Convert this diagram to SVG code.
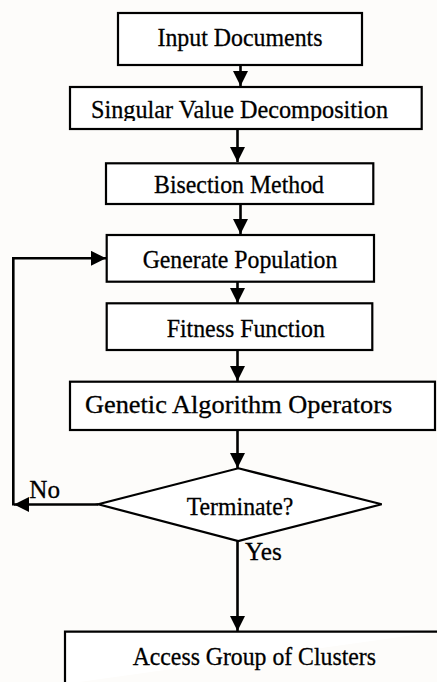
<svg xmlns="http://www.w3.org/2000/svg" width="437" height="682" viewBox="0 0 437 682">
<style>
.box{fill:#ffffff;stroke:#000;stroke-width:2.2}
.t{font-family:"Liberation Serif","Times New Roman",serif;font-size:26px;fill:#000;stroke:#000;stroke-width:0.3;text-anchor:middle}
.lbl{font-family:"Liberation Serif","Times New Roman",serif;font-size:26px;fill:#000;stroke:#000;stroke-width:0.3}
.c{fill:none;stroke:#000;stroke-width:2.6}
</style>
<defs>
<marker id="ah" markerUnits="userSpaceOnUse" markerWidth="16" markerHeight="16" refX="15" refY="7.5" orient="auto">
<path d="M0,0 L15,7.5 L0,15 z" fill="#000"/>
</marker>
<clipPath id="svdclip"><rect x="70" y="87" width="352" height="34"/></clipPath>
</defs>
<rect x="0" y="0" width="437" height="682" fill="#fdfcfa"/>
<g id="connectors">
<path class="c" d="M240.5,65 V86" marker-end="url(#ah)"/>
<path class="c" d="M237.5,129 V162" marker-end="url(#ah)"/>
<path class="c" d="M240.5,204 V234" marker-end="url(#ah)"/>
<path class="c" d="M237.5,282 V303" marker-end="url(#ah)"/>
<path class="c" d="M237.5,350 V381" marker-end="url(#ah)"/>
<path class="c" d="M237.5,430 V468" marker-end="url(#ah)"/>
<path class="c" d="M237.5,541 V631" marker-end="url(#ah)"/>
<path class="c" d="M98.3,504.5 H14" marker-end="url(#ah)"/>
<path class="c" d="M13.3,505.5 V258.3 H106" marker-end="url(#ah)"/>
</g>
<g id="n-input">
<rect class="box" x="118" y="13" width="244" height="52"/>
<text class="t" x="240" y="46" textLength="165" lengthAdjust="spacingAndGlyphs">Input Documents</text>
</g>
<g id="n-svd">
<rect class="box" x="70" y="87" width="351.7" height="42"/>
<text class="t" x="239.5" y="118" textLength="297" lengthAdjust="spacingAndGlyphs" clip-path="url(#svdclip)">Singular Value Decomposition</text>
</g>
<g id="n-bisection">
<rect class="box" x="106" y="163.3" width="267.3" height="40.7"/>
<text class="t" x="239" y="193.3" textLength="170" lengthAdjust="spacingAndGlyphs">Bisection Method</text>
</g>
<g id="n-genpop">
<rect class="box" x="106.7" y="235" width="267.3" height="46.7"/>
<text class="t" x="240" y="268.3" textLength="194.7" lengthAdjust="spacingAndGlyphs">Generate Population</text>
</g>
<g id="n-fitness">
<rect class="box" x="106.7" y="303.3" width="265.6" height="46.7"/>
<text class="t" x="245.8" y="336.7" textLength="158.3" lengthAdjust="spacingAndGlyphs">Fitness Function</text>
</g>
<g id="n-gao">
<rect class="box" x="70" y="381.7" width="365" height="48.3"/>
<text class="t" x="238.6" y="413.3" textLength="307.3" lengthAdjust="spacingAndGlyphs">Genetic Algorithm Operators</text>
</g>
<g id="n-terminate">
<polygon class="box" points="238.3,468.3 381.7,504.3 238.3,541 98.3,504.3"/>
<text class="t" x="240" y="515" textLength="106.6" lengthAdjust="spacingAndGlyphs">Terminate?</text>
</g>
<g id="labels">
<text class="lbl" x="29.3" y="498.3" textLength="30.7" lengthAdjust="spacingAndGlyphs">No</text>
<text class="lbl" x="245" y="559.5" textLength="36.7" lengthAdjust="spacingAndGlyphs">Yes</text>
</g>
<g id="n-access">
<path class="box" d="M65,684 V631.7 H438"/>
<text class="t" x="254.3" y="665" textLength="243.3" lengthAdjust="spacingAndGlyphs">Access Group of Clusters</text>
</g>
</svg>
